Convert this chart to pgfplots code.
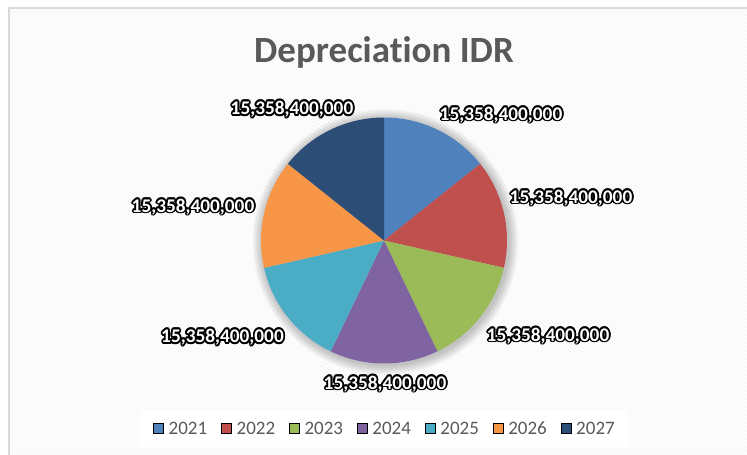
\documentclass[border=0pt]{standalone}
\usepackage{pgfplots}
\pgfplotsset{compat=1.18}
\usepackage{pgfplotstable}
\usepackage{fontspec}
\setmainfont{Carlito}[Ligatures={NoCommon}]

\definecolor{pie0}{HTML}{4F81BD}
\definecolor{pie1}{HTML}{C0504D}
\definecolor{pie2}{HTML}{9BBB59}
\definecolor{pie3}{HTML}{8064A2}
\definecolor{pie4}{HTML}{4BACC6}
\definecolor{pie5}{HTML}{F79646}
\definecolor{pie6}{HTML}{2C4D75}
\definecolor{txtgray}{HTML}{595959}
\definecolor{bordergray}{HTML}{D9D9D9}
\definecolor{bgbase}{HTML}{F3F3F3}

\pgfplotstableread{
year value lx ly
2021 15358400000 501 120
2022 15358400000 571 203
2023 15358400000 548 341
2024 15358400000 385 389
2025 15358400000 222.5 342.5
2026 15358400000 193 212
2027 15358400000 292 114.5
}\piedata

\newcommand\labelfont{\bfseries\fontsize{19.3}{21}\selectfont}
\tikzset{lblk/.style={anchor=base,inner sep=0pt,text=black,font=\labelfont},
         lwht/.style={anchor=base,inner sep=0pt,text=white,font=\labelfont}}
\newcommand\olabel[3]{%
  \node[lblk,shift={(0:1.8pt)}] at (axis cs:#1,#2) {#3};%
  \node[lblk,shift={(30:1.8pt)}] at (axis cs:#1,#2) {#3};%
  \node[lblk,shift={(60:1.8pt)}] at (axis cs:#1,#2) {#3};%
  \node[lblk,shift={(90:1.8pt)}] at (axis cs:#1,#2) {#3};%
  \node[lblk,shift={(120:1.8pt)}] at (axis cs:#1,#2) {#3};%
  \node[lblk,shift={(150:1.8pt)}] at (axis cs:#1,#2) {#3};%
  \node[lblk,shift={(180:1.8pt)}] at (axis cs:#1,#2) {#3};%
  \node[lblk,shift={(210:1.8pt)}] at (axis cs:#1,#2) {#3};%
  \node[lblk,shift={(240:1.8pt)}] at (axis cs:#1,#2) {#3};%
  \node[lblk,shift={(270:1.8pt)}] at (axis cs:#1,#2) {#3};%
  \node[lblk,shift={(300:1.8pt)}] at (axis cs:#1,#2) {#3};%
  \node[lblk,shift={(330:1.8pt)}] at (axis cs:#1,#2) {#3};%
  \node[lwht] at (axis cs:#1,#2) {#3};}

\begin{document}
\gdef\total{0}%
\pgfplotsforeachungrouped \i in {0,...,6}{%
  \pgfplotstablegetelem{\i}{value}\of\piedata
  \xdef\total{\fpeval{\total+\pgfplotsretval}}}%
\gdef\cum{0}%
\pgfplotsforeachungrouped \i in {0,...,6}{%
  \pgfplotstablegetelem{\i}{value}\of\piedata
  \expandafter\xdef\csname val\i\endcsname{\pgfplotsretval}%
  \expandafter\xdef\csname sa\i\endcsname{\fpeval{round(90-\cum/\total*360,5)}}%
  \xdef\cum{\fpeval{\cum+\pgfplotsretval}}%
  \expandafter\xdef\csname ea\i\endcsname{\fpeval{round(90-\cum/\total*360,5)}}%
  \pgfplotstablegetelem{\i}{lx}\of\piedata
  \expandafter\xdef\csname lx\i\endcsname{\pgfplotsretval}%
  \pgfplotstablegetelem{\i}{ly}\of\piedata
  \expandafter\xdef\csname ly\i\endcsname{\pgfplotsretval}%
}%
\begin{tikzpicture}
\useasboundingbox (0pt,0pt) rectangle (747pt,455pt);
% background (plain TikZ, same pt grid as the axis: x, 455-y)
\fill[bgbase] (8pt,0pt) rectangle (747pt,448pt);
\begin{scope}
\clip (8pt,0pt) rectangle (747pt,448pt);
\foreach \c in {-456,-452,...,748}{\draw[white, line width=1.8pt] (\c pt,456pt) -- ({(\c+456)*1pt},0pt);}
\end{scope}
\draw[bordergray, line width=2pt] (9pt,0pt) -- (9pt,447pt) -- (747pt,447pt);
\begin{axis}[
  at={(0pt,0pt)}, anchor=south west,
  scale only axis, width=747pt, height=455pt,
  xmin=0, xmax=747, ymin=0, ymax=455, y dir=reverse,
  hide axis, clip=false,
  legend columns=7,
  legend style={at={(0.5141,0.0582)}, anchor=center, draw=none, fill=white,
    font=\fontsize{19}{20}\selectfont, text=txtgray,
    inner xsep=13pt, inner ysep=12pt,
    nodes={inner sep=0pt, text height=12.5pt, text depth=0pt},
    /tikz/every odd column/.append style={column sep=5pt},
    /tikz/every even column/.append style={column sep=14pt}},
  legend image code/.code={\fill[#1] (0pt,-5pt) rectangle (10pt,5pt);},
]
% title
\node[anchor=base, font=\bfseries\fontsize{37}{40}\selectfont, text=txtgray, inner sep=0pt] at (axis cs:384,62) {Depreciation IDR};
% shadow
\pgfplotsinvokeforeach{124,...,133}{\fill[black, opacity=0.022] (axis cs:385.5,242) circle[radius=#1pt];}
% slices
\pgfplotsinvokeforeach{0,...,6}{%
  \edef\doit{\noexpand\fill[pie#1] (axis cs:384,240.5) -- ++(\csname sa#1\endcsname:123pt) arc[start angle=\csname sa#1\endcsname, end angle=\csname ea#1\endcsname, radius=123pt] -- cycle;}\doit
}
% labels
\pgfplotsinvokeforeach{0,...,6}{%
  \edef\doit{\noexpand\olabel{\csname lx#1\endcsname}{\csname ly#1\endcsname}{\noexpand\pgfmathprintnumber[fixed,precision=0,1000 sep={,},assume math mode=true]{\csname val#1\endcsname}}}\doit
}
\addlegendimage{fill=pie0}\addlegendentry{2021}
\addlegendimage{fill=pie1}\addlegendentry{2022}
\addlegendimage{fill=pie2}\addlegendentry{2023}
\addlegendimage{fill=pie3}\addlegendentry{2024}
\addlegendimage{fill=pie4}\addlegendentry{2025}
\addlegendimage{fill=pie5}\addlegendentry{2026}
\addlegendimage{fill=pie6}\addlegendentry{2027}
\end{axis}
\end{tikzpicture}
\end{document}
